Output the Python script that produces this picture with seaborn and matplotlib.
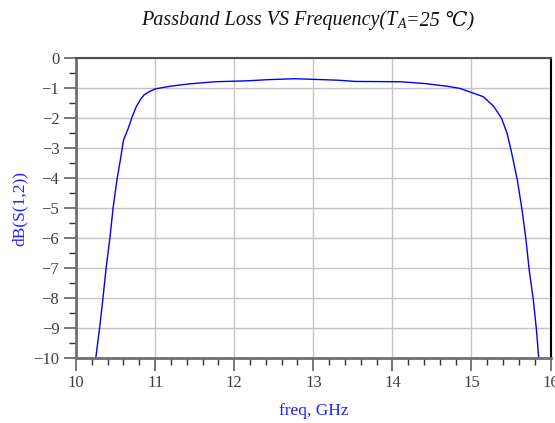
import matplotlib
matplotlib.use("Agg")
import matplotlib.pyplot as plt
from matplotlib.ticker import MultipleLocator
import seaborn as sns
import pandas as pd

freq_ghz = [10.25, 10.30, 10.34, 10.38, 10.43, 10.47, 10.52, 10.56, 10.60, 10.66,
            10.71, 10.76, 10.81, 10.86, 10.92, 11.00, 11.19, 11.44, 11.76, 12.16,
            12.43, 12.77, 13.00, 13.32, 13.53, 14.10, 14.41, 14.69, 14.85, 14.98,
            15.15, 15.28, 15.38, 15.45, 15.50, 15.58, 15.64, 15.69, 15.73, 15.78,
            15.82, 15.85]
db_s12 = [-10.0, -8.96, -8.02, -7.01, -5.96, -4.96, -4.01, -3.40, -2.73, -2.34,
          -1.95, -1.62, -1.39, -1.22, -1.12, -1.02, -0.93, -0.85, -0.78, -0.75,
          -0.71, -0.68, -0.70, -0.73, -0.77, -0.78, -0.84, -0.93, -1.00, -1.12,
          -1.28, -1.60, -2.00, -2.50, -3.06, -4.06, -5.07, -6.07, -7.07, -8.02,
          -9.02, -10.0]
x_ticks = [10, 11, 12, 13, 14, 15, 16]
y_ticks = [0, -1, -2, -3, -4, -5, -6, -7, -8, -9, -10]
title_parts = ["Passband Loss VS Frequency(T", "A", "=25 \u2103)"]

sns.set_style("white")
plt.rcParams['font.family'] = ['Liberation Serif', 'DejaVu Serif']

df = pd.DataFrame({"freq": freq_ghz, "db": db_s12})

fig = plt.figure(figsize=(5.55, 4.23), dpi=100)
ax = fig.add_axes([0.137, 0.154, 0.855, 0.708])
sns.lineplot(data=df, x="freq", y="db", ax=ax, color="#0000ff", linewidth=1.0, sort=False)

ax.set_xlim(10, 16)
ax.set_ylim(-10, 0)
ax.set_xticks(x_ticks)
ax.set_yticks(y_ticks)
ax.set_yticklabels([str(t).replace('-', '\u2212') for t in y_ticks])
ax.xaxis.set_minor_locator(MultipleLocator(0.2))
ax.yaxis.set_minor_locator(MultipleLocator(0.5))
ax.grid(True, which='major', color='#c4c4c4', linewidth=1.0)
ax.tick_params(axis='both', which='major', direction='out', length=9, width=1.2,
               color='#606060', labelsize=12, labelcolor='#404040', pad=3)
ax.tick_params(axis='both', which='minor', direction='out', length=5, width=1.0,
               color='#303030')
ax.tick_params(axis='x', which='both', bottom=True)
ax.tick_params(axis='y', which='both', left=True)
for side in ['left', 'bottom']:
    ax.spines[side].set_color('#707070')
    ax.spines[side].set_linewidth(2.0)
ax.spines['top'].set_color('#505050')
ax.spines['top'].set_linewidth(1.5)
ax.spines['right'].set_color('#000000')
ax.spines['right'].set_linewidth(1.5)

ax.set_xlabel("freq, GHz", color='#2020ff', fontsize=12.5, labelpad=9)
ax.set_ylabel("dB(S(1,2))", color='#2020ff', fontsize=12.5, labelpad=4)

# Title assembled from pieces (subscript A)
renderer = fig.canvas.get_renderer()
fam = ['Liberation Serif', 'DejaVu Serif']
sizes = [14.5, 10, 14.5]
dys = [0, -3, 0]
widths = []
tmp = []
for part, s in zip(title_parts, sizes):
    t = fig.text(0, 0, part, fontsize=s, style='italic', family=fam)
    widths.append(t.get_window_extent(renderer).width)
    tmp.append(t)
for t in tmp:
    t.remove()
total = sum(widths)
x0 = 0.555 * fig.bbox.width - total / 2
y0 = 0.94 * fig.bbox.height
x = x0
for part, s, dy, w in zip(title_parts, sizes, dys, widths):
    fig.text(x / fig.bbox.width, (y0 + dy) / fig.bbox.height, part, fontsize=s,
             style='italic', family=fam, va='baseline', ha='left', color='#111111')
    x += w

fig.savefig("out.png", dpi=100)
